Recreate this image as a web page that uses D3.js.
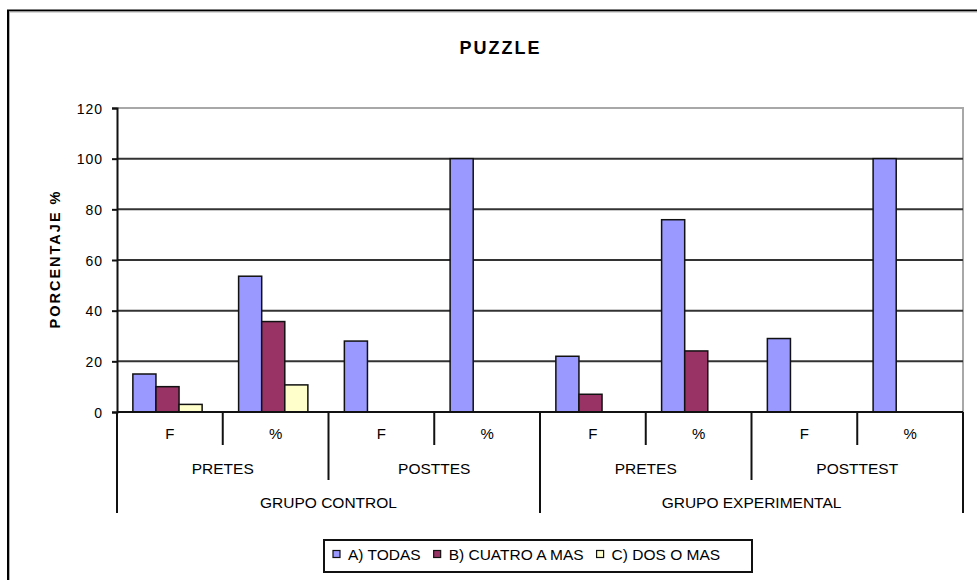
<!DOCTYPE html>
<html>
<head>
<meta charset="utf-8">
<script src="https://cdn.jsdelivr.net/npm/d3@7"></script>
<style>
  html, body { margin: 0; padding: 0; background: #fff; }
  svg { display: block; font-family: "Liberation Sans", Arial, sans-serif; }
</style>
</head>
<body>
<svg id="chart" width="977" height="580"></svg>
<script>
// ---- data ----
const categories = ["F", "%", "F", "%", "F", "%", "F", "%"];
const phases = ["PRETES", "POSTTES", "PRETES", "POSTTEST"];
const groups = ["GRUPO CONTROL", "GRUPO EXPERIMENTAL"];
const seriesNames = ["A) TODAS", "B) CUATRO A MAS", "C) DOS O MAS"];
const todas  = [15, 53.6, 28, 100, 22, 75.9, 29, 100];
const cuatro = [10, 35.7, 0, 0, 7, 24.1, 0, 0];
const dos    = [3, 10.7, 0, 0, 0, 0, 0, 0];
const yTicks = [0, 20, 40, 60, 80, 100, 120];
const colors = ["#9999FF", "#993366", "#FFFFCC"];
const title = "PUZZLE";
const yTitle = "PORCENTAJE %";

const seriesValues = [todas, cuatro, dos];

const svg = d3.select("#chart");
const plot = { left: 117, right: 963, top: 108, bottom: 412 };

// outer chart border
svg.append("rect").attr("x", 8).attr("y", 10.5).attr("width", 1100).attr("height", 700)
  .attr("fill", "#fff").attr("stroke", "#000").attr("stroke-width", 2);
svg.append("rect").attr("x", 9.5).attr("y", 12).attr("width", 1100).attr("height", 700)
  .attr("fill", "none").attr("stroke", "#b0b0b0").attr("stroke-width", 1);

// scales
const catIdx = categories.map((d, i) => i);
const x0 = d3.scaleBand().domain(catIdx).range([plot.left, plot.right]).padding(0);
const bw0 = x0.bandwidth();
const x1 = d3.scaleBand().domain(d3.range(seriesNames.length))
  .range([bw0 * 0.15, bw0 * 0.15 + bw0 * 0.655]).padding(0);
const y = d3.scaleLinear().domain([0, 120]).range([plot.bottom, plot.top]);

// plot area border (gray)
svg.append("path")
  .attr("d", `M${plot.left},${plot.top}H${plot.right}V${plot.bottom}`)
  .attr("fill", "none").attr("stroke", "#a8a8a8").attr("stroke-width", 2);

// gridlines
svg.append("g").selectAll("line").data(yTicks.filter(t => t > 0 && t < 120)).join("line")
  .attr("x1", plot.left).attr("x2", plot.right)
  .attr("y1", d => y(d)).attr("y2", d => y(d))
  .attr("stroke", "#333").attr("stroke-width", 2);

// bars
const barData = [];
seriesValues.forEach((vals, s) => vals.forEach((v, i) => { if (v > 0) barData.push({ s, i, v }); }));
svg.append("g").selectAll("rect").data(barData).join("rect")
  .attr("x", d => x0(d.i) + x1(d.s))
  .attr("y", d => y(d.v))
  .attr("width", x1.bandwidth())
  .attr("height", d => y(0) - y(d.v))
  .attr("fill", d => colors[d.s])
  .attr("stroke", "#111").attr("stroke-width", 1.5);

// y axis
const yAxis = d3.axisLeft(y).tickValues(yTicks).tickSize(5).tickPadding(9).tickFormat(d3.format("d"));
const ga = svg.append("g").attr("transform", `translate(${plot.left},0)`).call(yAxis);
ga.select(".domain").attr("stroke", "#111").attr("stroke-width", 2);
ga.selectAll(".tick line").attr("stroke", "#111").attr("stroke-width", 2);
ga.selectAll(".tick text").attr("font-size", 14).attr("letter-spacing", 1)
  .attr("font-family", "'Liberation Sans', Arial, sans-serif").attr("fill", "#000")
  .attr("dy", "0.36em");

// x axis baseline
svg.append("line").attr("x1", plot.left).attr("x2", plot.right)
  .attr("y1", plot.bottom).attr("y2", plot.bottom)
  .attr("stroke", "#111").attr("stroke-width", 2);

// multi-level category axis
const lvl1Bottom = 445, lvl2Bottom = 480, lvl3Bottom = 513;
const gx = svg.append("g");
d3.range(categories.length + 1).forEach(k => {
  const xp = k < categories.length ? x0(k) : plot.right;
  let yb = lvl1Bottom;
  if (k % 2 === 0) yb = lvl2Bottom;
  if (k % 4 === 0) yb = lvl3Bottom;
  gx.append("line").attr("x1", xp).attr("x2", xp).attr("y1", plot.bottom).attr("y2", yb)
    .attr("stroke", "#111").attr("stroke-width", 2);
});
gx.selectAll("text.l1").data(categories).join("text").attr("class", "l1")
  .attr("x", (d, i) => x0(i) + bw0 / 2).attr("y", 439)
  .attr("text-anchor", "middle").attr("font-size", 15).text(d => d);
gx.selectAll("text.l2").data(phases).join("text").attr("class", "l2")
  .attr("x", (d, i) => x0(i * 2) + bw0).attr("y", 474)
  .attr("text-anchor", "middle").attr("font-size", 15.5).text(d => d);
gx.selectAll("text.l3").data(groups).join("text").attr("class", "l3")
  .attr("x", (d, i) => x0(i * 4) + bw0 * 2).attr("y", 508)
  .attr("text-anchor", "middle").attr("font-size", 15.5).text(d => d);

// title
svg.append("text").attr("x", 500.5).attr("y", 54).attr("text-anchor", "middle")
  .attr("font-size", 18).attr("font-weight", "bold").attr("letter-spacing", 2).text(title);

// y title
svg.append("text").attr("transform", "translate(59.5,259) rotate(-90)")
  .attr("text-anchor", "middle").attr("font-size", 14.5).attr("font-weight", "bold")
  .attr("letter-spacing", 2).text(yTitle);

// legend
const lg = svg.append("g");
lg.append("rect").attr("x", 324).attr("y", 540).attr("width", 428).attr("height", 32)
  .attr("fill", "#fff").attr("stroke", "#111").attr("stroke-width", 2);
let lx = 333;
seriesNames.forEach((name, s) => {
  lg.append("rect").attr("x", lx).attr("y", 550.5).attr("width", 7).attr("height", 7)
    .attr("fill", colors[s]).attr("stroke", "#111").attr("stroke-width", 1.2);
  const t = lg.append("text").attr("x", lx + 15).attr("y", 559.5).attr("font-size", 15.5).text(name);
  lx += 15 + t.node().getComputedTextLength() + 13;
});
</script>
</body>
</html>
